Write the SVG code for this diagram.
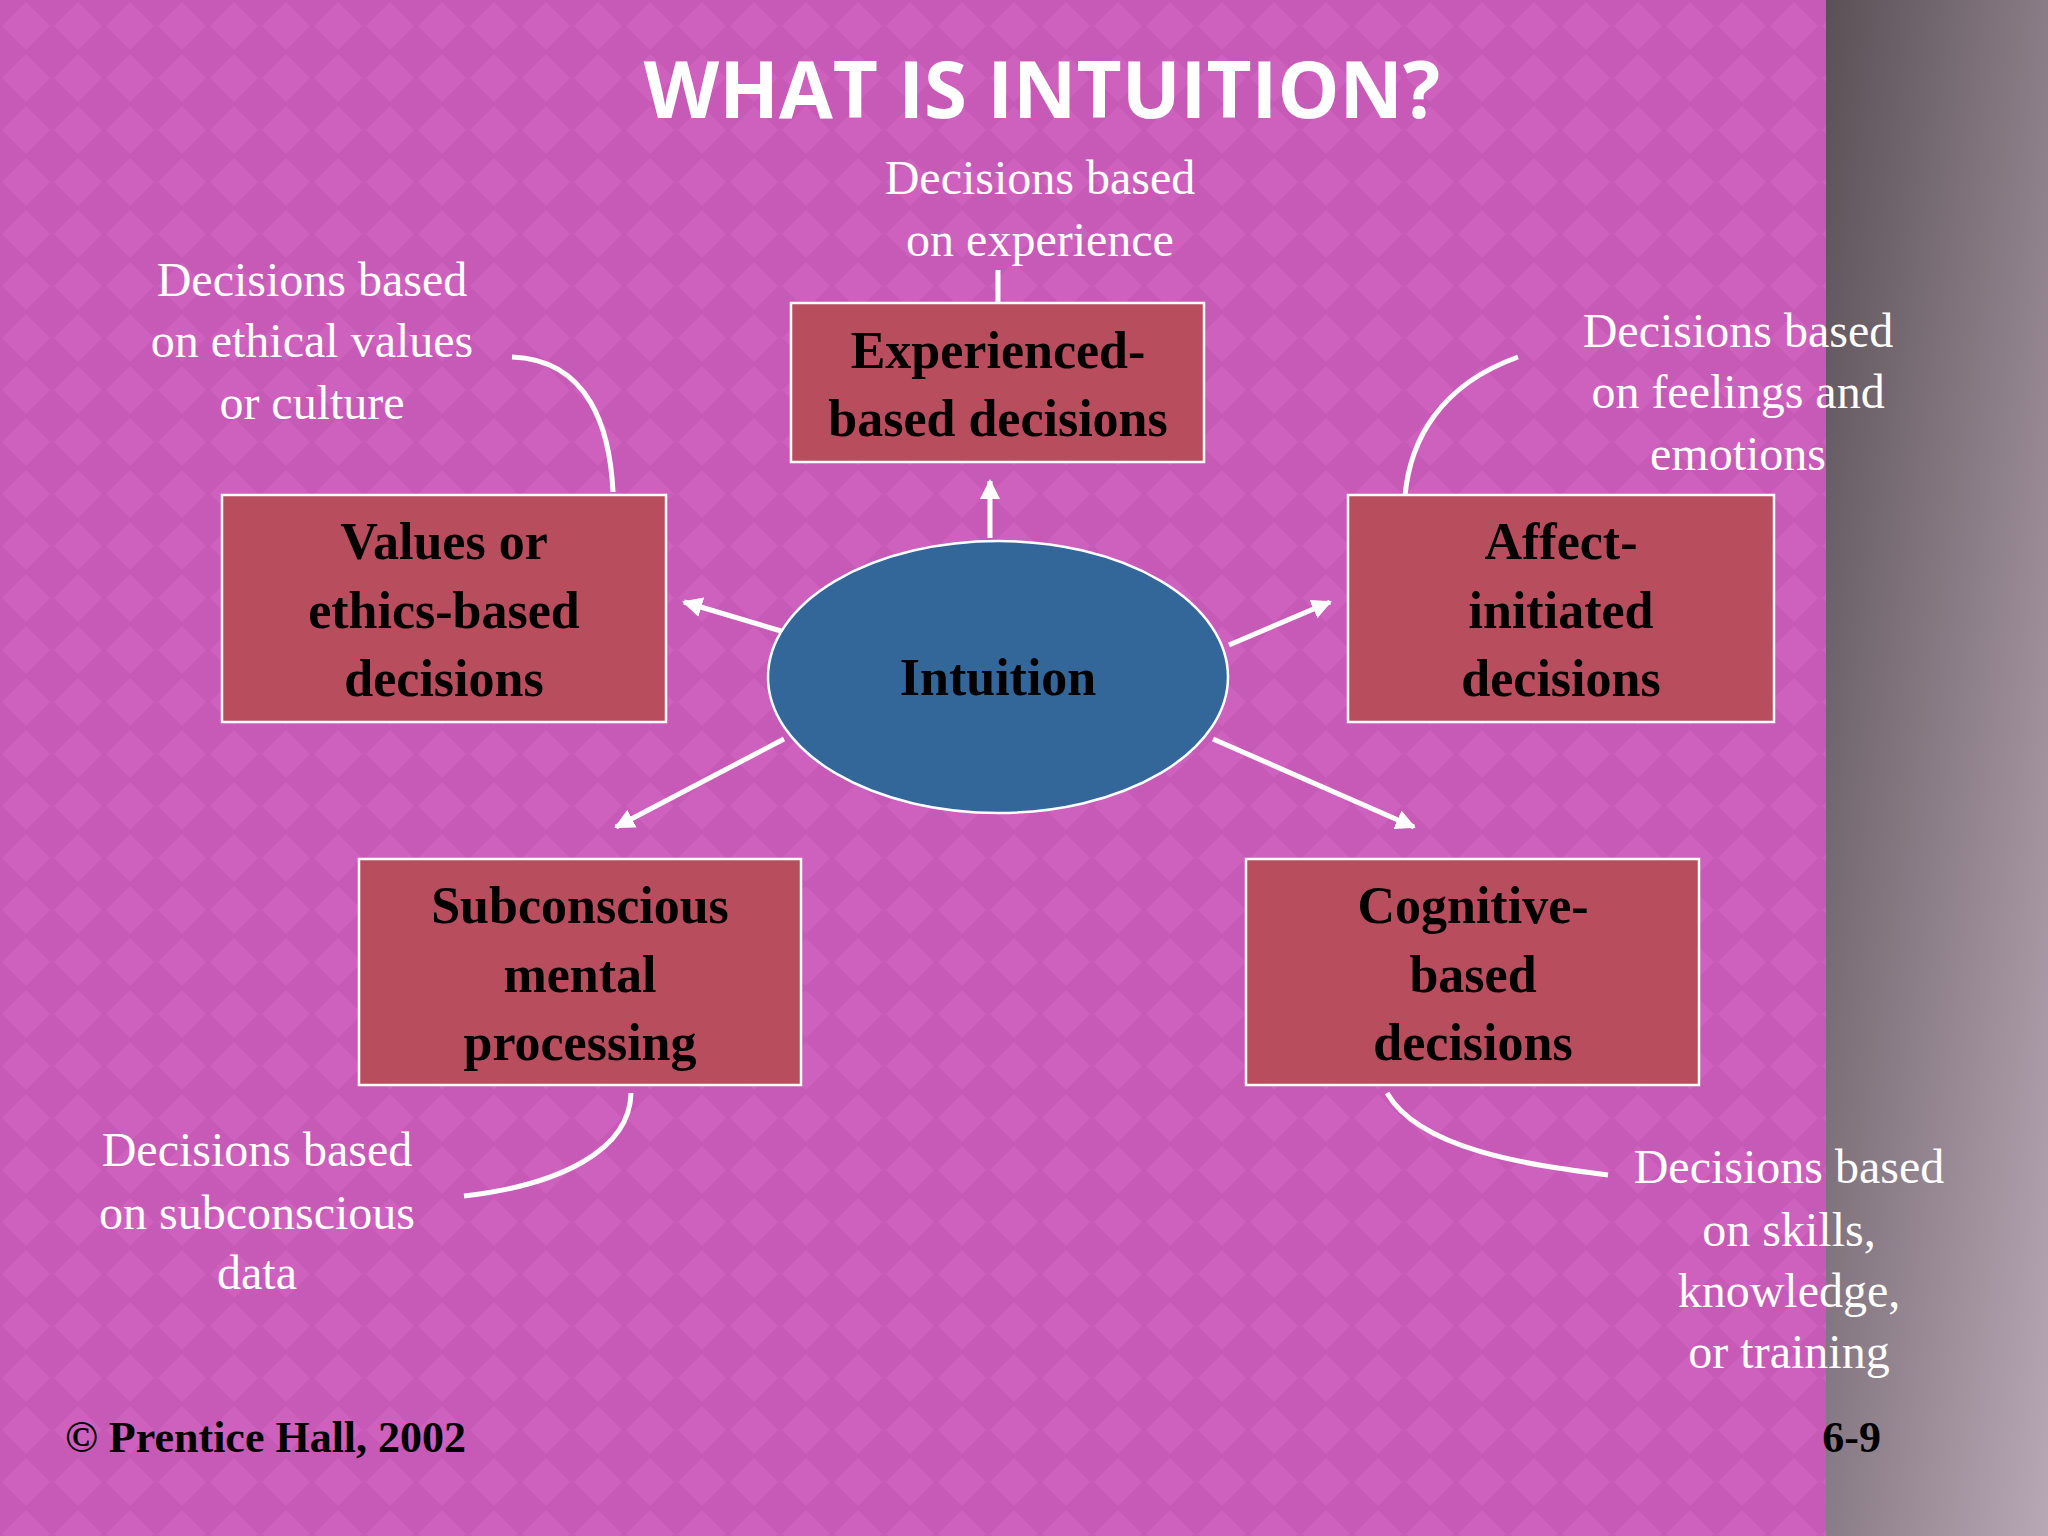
<svg xmlns="http://www.w3.org/2000/svg" width="2048" height="1536" viewBox="0 0 2048 1536">
<defs>
<pattern id="dia" width="52" height="52" patternUnits="userSpaceOnUse">
<rect width="52" height="52" fill="#c85ab7"/>
<path d="M26 2 L50 26 L26 50 L2 26 Z" fill="#d064c0" opacity="0.7"/>
</pattern>
<linearGradient id="side" x1="0" y1="0" x2="1" y2="1">
<stop offset="0" stop-color="#5a5055"/>
<stop offset="0.5" stop-color="#8a7c86"/>
<stop offset="1" stop-color="#b8a8b6"/>
</linearGradient>
<marker id="ah" viewBox="0 0 10 10" refX="9" refY="5" markerWidth="4" markerHeight="4" orient="auto">
<path d="M0 0 L10 5 L0 10 Z" fill="#fff"/>
</marker>
<style>
.box{fill:#b84d5e;stroke:#fff;stroke-width:2.5}
.bt{font-family:"Liberation Serif",serif;font-weight:bold;font-size:52px;fill:#000;text-anchor:middle}
.lb{font-family:"Liberation Serif",serif;font-size:48px;fill:#fff;text-anchor:middle}
.ar{stroke:#fff;stroke-width:5;fill:none;marker-end:url(#ah)}
.cv{stroke:#fff;stroke-width:5;fill:none}
</style>
</defs>
<rect width="2048" height="1536" fill="url(#dia)"/>
<rect x="1826" y="0" width="222" height="1536" fill="url(#side)"/>
<text x="1042" y="118" font-family="Open Sans, sans-serif" font-weight="bold" font-size="78" fill="#fff" text-anchor="middle">WHAT IS INTUITION?</text>
<g id="connectors">
<line class="ar" x1="990" y1="538" x2="990" y2="481"/>
<line class="ar" x1="781" y1="631" x2="684" y2="602"/>
<line class="ar" x1="1229" y1="645" x2="1330" y2="602"/>
<line class="ar" x1="784" y1="739" x2="616" y2="827"/>
<line class="ar" x1="1213" y1="739" x2="1414" y2="827"/>
<line class="cv" x1="998" y1="270" x2="998" y2="303"/>
<path class="cv" d="M512 357 C590 360 610 430 613 492"/>
<path class="cv" d="M1518 357 C1440 385 1410 440 1405 496"/>
<path class="cv" d="M631 1093 C630 1150 560 1185 464 1196"/>
<path class="cv" d="M1387 1093 C1420 1150 1530 1165 1608 1175"/>
</g>
<g id="experienced"><rect class="box" x="791" y="303" width="413" height="159"/>
<text class="bt" x="998" y="368">Experienced-</text><text class="bt" x="998" y="436">based decisions</text></g>
<g id="values"><rect class="box" x="222" y="495" width="444" height="227"/>
<text class="bt" x="444" y="559">Values or</text><text class="bt" x="444" y="628">ethics-based</text><text class="bt" x="444" y="696">decisions</text></g>
<g id="affect"><rect class="box" x="1348" y="495" width="426" height="227"/>
<text class="bt" x="1561" y="559">Affect-</text><text class="bt" x="1561" y="628">initiated</text><text class="bt" x="1561" y="696">decisions</text></g>
<g id="subconscious"><rect class="box" x="359" y="859" width="442" height="226"/>
<text class="bt" x="580" y="923">Subconscious</text><text class="bt" x="580" y="992">mental</text><text class="bt" x="580" y="1060">processing</text></g>
<g id="cognitive"><rect class="box" x="1246" y="859" width="453" height="226"/>
<text class="bt" x="1473" y="923">Cognitive-</text><text class="bt" x="1473" y="992">based</text><text class="bt" x="1473" y="1060">decisions</text></g>
<g id="intuition"><ellipse cx="998" cy="677" rx="230" ry="136" fill="#336699" stroke="#fff" stroke-width="2.5"/>
<text class="bt" x="998" y="695" font-size="48">Intuition</text></g>
<g id="labels">
<text class="lb" x="1040" y="194">Decisions based</text><text class="lb" x="1040" y="256">on experience</text>
<text class="lb" x="312" y="296">Decisions based</text><text class="lb" x="312" y="357">on ethical values</text><text class="lb" x="312" y="419">or culture</text>
<text class="lb" x="1738" y="347">Decisions based</text><text class="lb" x="1738" y="408">on feelings and</text><text class="lb" x="1738" y="470">emotions</text>
<text class="lb" x="257" y="1166">Decisions based</text><text class="lb" x="257" y="1229">on subconscious</text><text class="lb" x="257" y="1289">data</text>
<text class="lb" x="1789" y="1183">Decisions based</text><text class="lb" x="1789" y="1246">on skills,</text><text class="lb" x="1789" y="1307">knowledge,</text><text class="lb" x="1789" y="1368">or training</text>
</g>
<text x="65" y="1452" font-family="Liberation Serif, serif" font-weight="bold" font-size="44" fill="#000">© Prentice Hall, 2002</text>
<text x="1881" y="1452" font-family="Liberation Serif, serif" font-weight="bold" font-size="44" fill="#000" text-anchor="end">6-9</text>
</svg>
